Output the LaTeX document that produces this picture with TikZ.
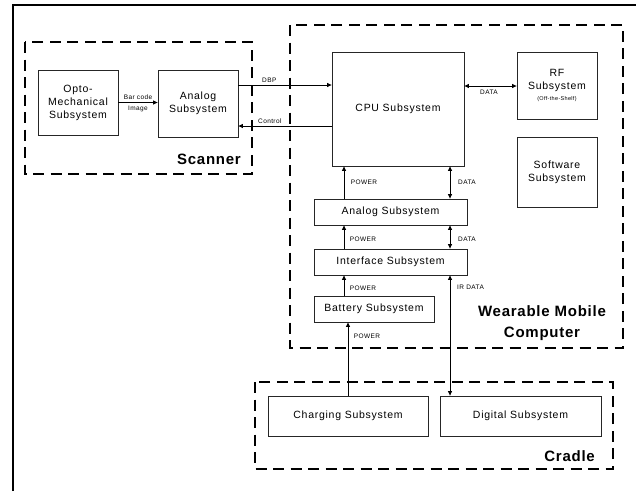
\documentclass[tikz,border=0pt]{standalone}
\usepackage{fontspec}
\setmainfont{Liberation Sans}
\newfontfamily\boxfont[LetterSpace=7]{Liberation Sans}
\newfontfamily\tagfont[LetterSpace=6]{Liberation Sans}
\newfontfamily\groupfont[LetterSpace=5]{Liberation Sans Bold}
\usetikzlibrary{arrows.meta}
\tikzset{
  blk/.style={draw=black!85, line width=0.8pt, rectangle, inner sep=0pt,
    align=center, font=\boxfont\fontsize{10.5}{13}\selectfont},
  grp/.style={draw=black, line width=1.3pt, dash pattern=on 11pt off 6.5pt},
  wire/.style={draw=black, line width=0.8pt},
  tip/.style={-{Triangle[length=4.5pt,width=4pt]}},
  tips/.style={{Triangle[length=4.5pt,width=4pt]}-{Triangle[length=4.5pt,width=4pt]}},
  tag/.style={font=\tagfont\fontsize{6.5}{7.5}\selectfont, inner sep=0pt, align=center},
  gtitle/.style={font=\groupfont\fontsize{15}{21}\selectfont, inner sep=0pt, align=center},
}
\begin{document}
\begin{tikzpicture}[x=1pt, y=-1pt]
\useasboundingbox (0,0) rectangle (636,491);

% sheet frame (top and left edges)
\draw[line width=2pt] (13,491) -- (13,5) -- (636,5);

% subsystem groups
\draw[grp] (25,42) rectangle (252,174);
\draw[grp] (290,25) rectangle (623,348);
\draw[grp] (255,382) rectangle (613,469);

\node[gtitle, anchor=base east] (tscan) at (241,164) {Scanner};
\node[gtitle] (twmc) at (542,323) {Wearable Mobile\\Computer};
\node[gtitle, anchor=base east] (tcrad) at (595,461) {Cradle};

% blocks
\node[blk, minimum width=80pt, minimum height=65pt] (opto) at (78,102.5)
  {Opto-\\Mechanical\\Subsystem};
\node[blk, minimum width=80pt, minimum height=67pt] (sana) at (198,103.5)
  {Analog\\Subsystem};
\node[blk, minimum width=132pt, minimum height=114pt] (cpu) at (398,109)
  {CPU Subsystem};
\node[blk, minimum width=80pt, minimum height=67pt] (rf) at (557,85.5)
  {RF\\Subsystem\\[-2pt]{\tagfont\fontsize{5.5}{6.5}\selectfont(Off-the-Shelf)}};
\node[blk, minimum width=80pt, minimum height=70pt] (sw) at (557,172)
  {Software\\Subsystem};
\node[blk, minimum width=153pt, minimum height=26pt] (wana) at (390.5,212)
  {Analog Subsystem};
\node[blk, minimum width=153pt, minimum height=26pt] (intf) at (390.5,262)
  {Interface Subsystem};
\node[blk, minimum width=120pt, minimum height=26pt] (batt) at (374,309)
  {Battery Subsystem};
\node[blk, minimum width=160pt, minimum height=40pt] (chg) at (348,416)
  {Charging Subsystem};
\node[blk, minimum width=161pt, minimum height=40pt] (dig) at (520.5,416)
  {Digital Subsystem};

% bus positions
\coordinate (pwr) at (344,0);
\coordinate (pwrc) at (348,0);
\coordinate (dat) at (450,0);
\coordinate (dbp) at (0,85);
\coordinate (ctl) at (0,126);
\coordinate (rfd) at (0,86);

% scanner links
\draw[wire, tip] (opto.east) -- (opto.east -| sana.west);
\node[tag] (lbar) at (138,97) {Bar code};
\node[tag] (limg) at (138,108.5) {Image};
\draw[wire, tip] (sana.east |- dbp) -- (cpu.west |- dbp);
\node[tag, anchor=base west] (ldbp) at (262,82) {DBP};
\draw[wire, tip] (cpu.west |- ctl) -- (sana.east |- ctl);
\node[tag, anchor=base west] (lctl) at (258,123) {Control};

% CPU to RF
\draw[wire, tips] (cpu.east |- rfd) -- (rf.west |- rfd);
\node[tag] (lrf) at (489,92.5) {DATA};

% power chain
\draw[wire, tip] (wana.north -| pwr) -- (cpu.south -| pwr);
\node[tag] (lp1) at (364,182.5) {POWER};
\draw[wire, tip] (intf.north -| pwr) -- (wana.south -| pwr);
\node[tag] (lp2) at (363,239.5) {POWER};
\draw[wire, tip] (batt.north -| pwr) -- (intf.south -| pwr);
\node[tag] (lp3) at (363,288.5) {POWER};
\draw[wire, tip] (chg.north -| pwrc) -- (batt.south -| pwrc);
\node[tag] (lp4) at (367,336.5) {POWER};

% data chain
\draw[wire, tips] (cpu.south -| dat) -- (wana.north -| dat);
\node[tag] (ld1) at (467,182.5) {DATA};
\draw[wire, tips] (wana.south -| dat) -- (intf.north -| dat);
\node[tag] (ld2) at (467,239.5) {DATA};
\draw[wire, tips] (intf.south -| dat) -- (dig.north -| dat);
\node[tag, anchor=west] (ld3) at (457,287.5) {IR DATA};
\end{tikzpicture}
\end{document}
